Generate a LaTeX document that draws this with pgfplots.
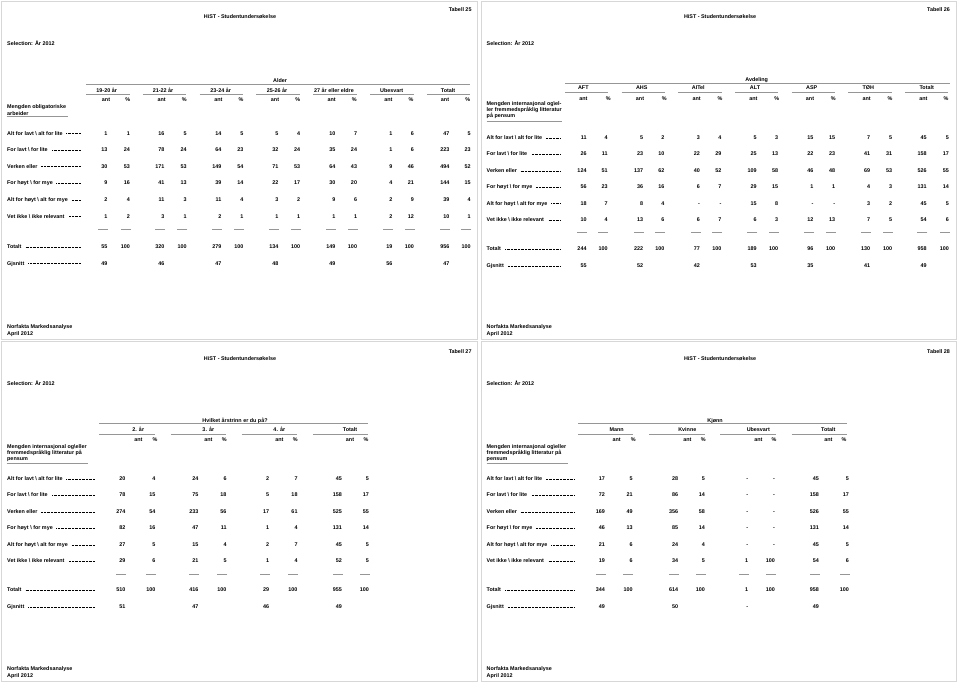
\documentclass[border=0pt]{standalone}
\usepackage{pgfplots}
\pgfplotsset{compat=1.18}
\usepackage{pgfplotstable}
\usepackage{fontspec}
\setmainfont{Liberation Sans}
\definecolor{framegray}{RGB}{215,215,215}
\definecolor{rulegray}{RGB}{150,150,150}
\newcommand\tf{\fontsize{5.4}{6}\selectfont\bfseries}
\newcommand\ldr{\hspace{3pt}\leaders\hbox to 1.4pt{\hss\rule[0.28em]{0.9pt}{0.35pt}\hss}\hfill}
\newcommand\rl[4]{\node[anchor=mid west,inner sep=0pt] at (axis cs:#1,#2) {\makebox[#3pt][l]{#4\ldr}};}
\newcommand\tx[3]{\node[anchor=#1,inner sep=0pt] at (axis cs:#2) {#3};}
\newcommand\hln[3]{\draw[rulegray,line width=0.8pt] (axis cs:#1,#3) -- (axis cs:#2,#3);}
\newcommand\dsh[2]{\draw[rulegray,line width=0.6pt] (axis cs:#1,#2) ++(0.5pt,0) -- ++(-10pt,0);}
\newcommand\col[3]{\addplot[draw=none,mark=none,nodes near coords,point meta=explicit symbolic,
  every node near coord/.append style={anchor=mid east,inner sep=0pt}] table[x expr={#2},y=ypos,meta=#3] {#1};}

% Tabell 25: Alder
\pgfplotstableread{
ypos  a1 p1  a2 p2  a3 p3  a4 p4  a5 p5  a6 p6  a7 p7
132.7 1  1   16 5   14 5   5  4   10 7   1  6   47 5
149.3 13 24  78 24  64 23  32 24  35 24  1  6   223 23
165.7 30 53  171 53 149 54 71 53  64 43  9  46  494 52
182.3 9  16  41 13  39 14  22 17  30 20  4  21  144 15
199.0 2  4   11 3   11 4   3  2   9  6   2  9   39 4
215.7 1  2   3  1   2  1   1  1   1  1   2  12  10 1
246.0 55 100 320 100 279 100 134 100 149 100 19 100 956 100
262.7 49 {}  46 {}  47 {}  48 {}  49 {}  56 {}  47 {}
}\tabA
% Tabell 26: Avdeling
\pgfplotstableread{
ypos  a1 p1  a2 p2  a3 p3  a4 p4  a5 p5  a6 p6  a7 p7
137.3 11 4   5  2   3  4   5  3   15 15  7  5   45 5
153.3 26 11  23 10  22 29  25 13  22 23  41 31  158 17
170.0 124 51 137 62 40 52  109 58 46 48  69 53  526 55
186.0 56 23  36 16  6  7   29 15  1  1   4  3   131 14
202.7 18 7   8  4   -  -   15 8   -  -   3  2   45 5
219.0 10 4   13 6   6  7   6  3   12 13  7  5   54 6
248.3 244 100 222 100 77 100 189 100 96 100 130 100 958 100
265.0 55 {}  52 {}  42 {}  53 {}  35 {}  41 {}  49 {}
}\tabB
% Tabell 27: Arstrinn
\pgfplotstableread{
ypos  a1 p1  a2 p2  a3 p3  a4 p4
478.3 20 4   24 6   2  7   45 5
494.3 78 15  75 18  5  18  158 17
511.0 274 54 233 56 17 61  525 55
527.3 82 16  47 11  1  4   131 14
544.0 27 5   15 4   2  7   45 5
560.0 29 6   21 5   1  4   52 5
589.3 510 100 416 100 29 100 955 100
606.0 51 {}  47 {}  46 {}  49 {}
}\tabC
% Tabell 28: Kjonn
\pgfplotstableread{
ypos  a1 p1  a2 p2  a3 p3  a4 p4
478.3 17 5   28 5   -  -   45 5
494.3 72 21  86 14  -  -   158 17
511.0 169 49 356 58 -  -   526 55
527.3 46 13  85 14  -  -   131 14
544.0 21 6   24 4   -  -   45 5
560.0 19 6   34 5   1  100 54 6
589.3 344 100 614 100 1 100 958 100
606.0 49 {}  50 {}  -  {}  49 {}
}\tabD

\begin{document}
\begin{tikzpicture}[font=\tf]
\begin{axis}[
  width=960pt, height=684pt, scale only axis,
  xmin=0, xmax=960, ymin=0, ymax=684, y dir=reverse,
  enlargelimits=false, hide axis, clip=false]

% panel frames
\draw[framegray,line width=1.5pt] (axis cs:1.7,1.7) rectangle (axis cs:477.3,339.7);
\draw[framegray,line width=1.5pt] (axis cs:481.7,1.7) rectangle (axis cs:956.7,339.7);
\draw[framegray,line width=1.5pt] (axis cs:1.7,341.7) rectangle (axis cs:477.3,681.7);
\draw[framegray,line width=1.5pt] (axis cs:481.7,341.7) rectangle (axis cs:956.7,681.7);

% ---------- Tabell 25 ----------
\tx{mid east}{471.7,9.3}{Tabell 25}
\tx{mid}{240,16}{HiST - Studentundersøkelse}
\tx{mid west}{7,43.3}{Selection: År 2012}
\tx{mid}{280,80}{Alder}
\hln{86}{470}{84.3}
\tx{mid}{106.7,90}{19-20 år}
\tx{mid}{163,90}{21-22 år}
\tx{mid}{220.7,90}{23-24 år}
\tx{mid}{277,90}{25-26 år}
\tx{mid}{334,90}{27 år eller eldre}
\tx{mid}{391.7,90}{Ubesvart}
\tx{mid}{448,90}{Totalt}
\pgfplotsinvokeforeach{86,142.8,199.6,256.4,313.2,370,426.8}{\hln{#1}{#1+43.5}{94.3}}
\pgfplotsinvokeforeach{106,161.7,218.3,275,331.7,388.3,445}{\tx{mid}{#1,99.3}{ant}}
\pgfplotsinvokeforeach{127.7,184.3,241,297.7,354.3,411,467.7}{\tx{mid}{#1,99.3}{\%}}
\tx{mid west}{7,106}{Mengden obligatoriske}
\tx{mid west}{7,112.7}{arbeider}
\hln{6.7}{68}{116.7}
\rl{7}{132.7}{75}{Alt for lavt \textbackslash{} alt for lite}
\rl{7}{149.3}{75}{For lavt \textbackslash{} for lite}
\rl{7}{165.7}{75}{Verken eller}
\rl{7}{182.3}{75}{For høyt \textbackslash{} for mye}
\rl{7}{199.0}{75}{Alt for høyt \textbackslash{} alt for mye}
\rl{7}{215.7}{75}{Vet ikke \textbackslash{} ikke relevant}
\rl{7}{246.0}{75}{Totalt}
\rl{7}{262.7}{75}{Gjsnitt}
\pgfplotsinvokeforeach{1,...,7}{
  \col{\tabA}{107.5+57*(#1-1)}{a#1}
  \col{\tabA}{130+56.8*(#1-1)}{p#1}
}
\pgfplotsinvokeforeach{107.5,164.5,221.5,278.5,335.5,392.5,449.5,130,186.8,243.6,300.4,357.2,414,470.8}{\dsh{#1}{229.3}}
\tx{mid west}{7,325.7}{Norfakta Markedsanalyse}
\tx{mid west}{7,333}{April 2012}

% ---------- Tabell 26 ----------
\tx{mid east}{950,9.3}{Tabell 26}
\tx{mid}{720,16}{HiST - Studentundersøkelse}
\tx{mid west}{486.5,43.3}{Selection: År 2012}
\tx{mid}{756.7,79.3}{Avdeling}
\hln{565}{950}{83.3}
\tx{mid}{583.3,87.3}{AFT}
\tx{mid}{641.7,87.3}{AHS}
\tx{mid}{698.3,87.3}{AITel}
\tx{mid}{755,87.3}{ALT}
\tx{mid}{811.7,87.3}{ASP}
\tx{mid}{868.3,87.3}{TØH}
\tx{mid}{926.7,87.3}{Totalt}
\pgfplotsinvokeforeach{565,621.7,678.3,735,791.7,848.3,905}{\hln{#1}{#1+43.3}{92.7}}
\pgfplotsinvokeforeach{583.3,640,696.7,753.3,810,866.7,923.3}{\tx{mid}{#1,98.3}{ant}}
\pgfplotsinvokeforeach{608.3,664.3,720,776.7,833.3,890,946}{\tx{mid}{#1,98.3}{\%}}
\tx{mid west}{486.5,103.3}{Mengden internasjonal og\textbackslash el-}
\tx{mid west}{486.5,109.3}{ler fremmedspråklig litteratur}
\tx{mid west}{486.5,115}{på pensum}
\hln{486.5}{562}{121.7}
\rl{486.5}{137.3}{74.5}{Alt for lavt \textbackslash{} alt for lite}
\rl{486.5}{153.3}{74.5}{For lavt \textbackslash{} for lite}
\rl{486.5}{170.0}{74.5}{Verken eller}
\rl{486.5}{186.0}{74.5}{For høyt \textbackslash{} for mye}
\rl{486.5}{202.7}{74.5}{Alt for høyt \textbackslash{} alt for mye}
\rl{486.5}{219.0}{74.5}{Vet ikke \textbackslash{} ikke relevant}
\rl{486.5}{248.3}{74.5}{Totalt}
\rl{486.5}{265.0}{74.5}{Gjsnitt}
\pgfplotsinvokeforeach{1,...,7}{
  \col{\tabB}{586.7+56.7*(#1-1)}{a#1}
  \col{\tabB}{607.7+56.9*(#1-1)}{p#1}
}
\pgfplotsinvokeforeach{586.7,643.4,700.1,756.8,813.5,870.2,926.9,607.7,664.6,721.5,778.4,835.3,892.2,949.1}{\dsh{#1}{232.7}}
\tx{mid west}{486.5,325.7}{Norfakta Markedsanalyse}
\tx{mid west}{486.5,333}{April 2012}

% ---------- Tabell 27 ----------
\tx{mid east}{471.7,351}{Tabell 27}
\tx{mid}{240,357.7}{HiST - Studentundersøkelse}
\tx{mid west}{7,383.3}{Selection: År 2012}
\tx{mid}{235,420}{Hvilket årstrinn er du på?}
\hln{99.3}{368.3}{423.7}
\tx{mid}{138.3,429.3}{2. år}
\tx{mid}{208.3,429.3}{3. år}
\tx{mid}{279.3,429.3}{4. år}
\tx{mid}{350,429.3}{Totalt}
\hln{99.3}{155}{434.3}
\hln{170.7}{226}{434.3}
\hln{241.7}{297.3}{434.3}
\hln{313.3}{368.3}{434.3}
\pgfplotsinvokeforeach{138.3,208.3,279.3,350}{\tx{mid}{#1,439.3}{ant}}
\pgfplotsinvokeforeach{155,224.3,295.3,366}{\tx{mid}{#1,439.3}{\%}}
\tx{mid west}{7,446}{Mengden internasjonal og\textbackslash eller}
\tx{mid west}{7,452}{fremmedspråklig litteratur på}
\tx{mid west}{7,458}{pensum}
\hln{6.7}{88.3}{463.3}
\rl{7}{478.3}{89}{Alt for lavt \textbackslash{} alt for lite}
\rl{7}{494.3}{89}{For lavt \textbackslash{} for lite}
\rl{7}{511.0}{89}{Verken eller}
\rl{7}{527.3}{89}{For høyt \textbackslash{} for mye}
\rl{7}{544.0}{89}{Alt for høyt \textbackslash{} alt for mye}
\rl{7}{560.0}{89}{Vet ikke \textbackslash{} ikke relevant}
\rl{7}{589.3}{89}{Totalt}
\rl{7}{606.0}{89}{Gjsnitt}
\col{\tabC}{125.7}{a1}
\col{\tabC}{155.5}{p1}
\col{\tabC}{198.7}{a2}
\col{\tabC}{226.7}{p2}
\col{\tabC}{269.3}{a3}
\col{\tabC}{297.7}{p3}
\col{\tabC}{342}{a4}
\col{\tabC}{369}{p4}
\pgfplotsinvokeforeach{125.7,155.5,198.7,226.7,269.3,297.7,342,369}{\dsh{#1}{574}}
\tx{mid west}{7,667.7}{Norfakta Markedsanalyse}
\tx{mid west}{7,675}{April 2012}

% ---------- Tabell 28 ----------
\tx{mid east}{950,351}{Tabell 28}
\tx{mid}{720,357.7}{HiST - Studentundersøkelse}
\tx{mid west}{486.5,383.3}{Selection: År 2012}
\tx{mid}{715,420}{Kjønn}
\hln{578.3}{846.7}{423.7}
\tx{mid}{616.7,429.3}{Mann}
\tx{mid}{687.3,429.3}{Kvinne}
\tx{mid}{758.3,429.3}{Ubesvart}
\tx{mid}{828.3,429.3}{Totalt}
\hln{578.3}{633.3}{434.3}
\hln{649.3}{705}{434.3}
\hln{720}{776}{434.3}
\hln{791.7}{846.7}{434.3}
\pgfplotsinvokeforeach{616.7,687.3,758.3,828.3}{\tx{mid}{#1,439.3}{ant}}
\pgfplotsinvokeforeach{633.3,703.3,774,844}{\tx{mid}{#1,439.3}{\%}}
\tx{mid west}{486.5,446}{Mengden internasjonal og\textbackslash eller}
\tx{mid west}{486.5,452}{fremmedspråklig litteratur på}
\tx{mid west}{486.5,458}{pensum}
\hln{486.5}{568.3}{463.3}
\rl{486.5}{478.3}{88.5}{Alt for lavt \textbackslash{} alt for lite}
\rl{486.5}{494.3}{88.5}{For lavt \textbackslash{} for lite}
\rl{486.5}{511.0}{88.5}{Verken eller}
\rl{486.5}{527.3}{88.5}{For høyt \textbackslash{} for mye}
\rl{486.5}{544.0}{88.5}{Alt for høyt \textbackslash{} alt for mye}
\rl{486.5}{560.0}{88.5}{Vet ikke \textbackslash{} ikke relevant}
\rl{486.5}{589.3}{88.5}{Totalt}
\rl{486.5}{606.0}{88.5}{Gjsnitt}
\col{\tabD}{605}{a1}
\col{\tabD}{632.7}{p1}
\col{\tabD}{678.3}{a2}
\col{\tabD}{705}{p2}
\col{\tabD}{748.3}{a3}
\col{\tabD}{775}{p3}
\col{\tabD}{819}{a4}
\col{\tabD}{849}{p4}
\pgfplotsinvokeforeach{605,632.7,678.3,705,748.3,775,819,849}{\dsh{#1}{574}}
\tx{mid west}{486.5,667.7}{Norfakta Markedsanalyse}
\tx{mid west}{486.5,675}{April 2012}
\end{axis}
\pgfresetboundingbox
\path (current axis.south west) rectangle (current axis.north east);
\end{tikzpicture}
\end{document}
